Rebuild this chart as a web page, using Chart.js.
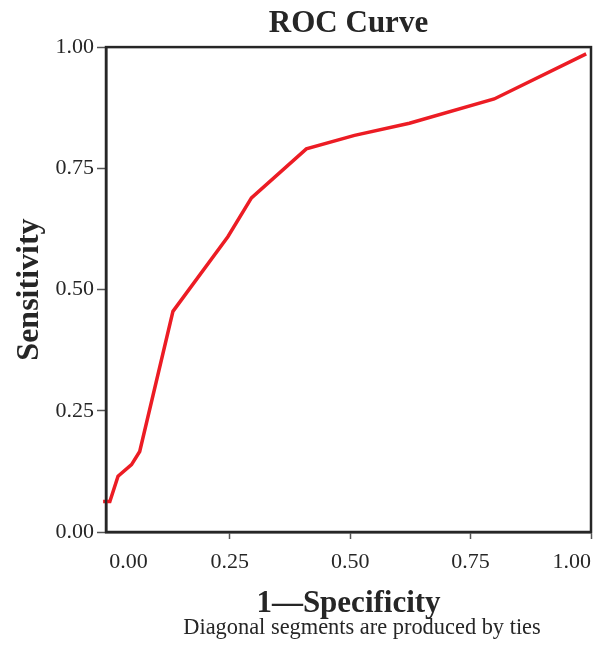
<!DOCTYPE html>
<html>
<head>
<meta charset="utf-8">
<script src="https://cdn.jsdelivr.net/npm/chart.js@4.4.0/dist/chart.umd.min.js"></script>
<style>
  html, body { margin: 0; padding: 0; background: #ffffff; }
  #wrap { width: 606px; height: 653px; }
</style>
</head>
<body>
<div id="wrap"><canvas id="c" width="606" height="653"></canvas></div>
<script>
// ---- data ----
const fpr = [-0.013, 0.001, 0.018, 0.046, 0.063, 0.132, 0.246, 0.295, 0.409, 0.509, 0.623, 0.799, 0.990];
const tpr = [0.063, 0.063, 0.115, 0.139, 0.166, 0.455, 0.609, 0.689, 0.790, 0.818, 0.843, 0.893, 0.986];
const xTicks = [0, 0.25, 0.5, 0.75, 1.0];
const yTicks = [0, 0.25, 0.5, 0.75, 1.0];
const titleText = 'ROC Curve';
const xTitle = '1\u2014Specificity';
const yTitle = 'Sensitivity';
const noteText = 'Diagonal segments are produced by ties';

const points = fpr.map((x, i) => ({ x: x, y: tpr[i] }));
const SERIF = "'Liberation Serif', 'DejaVu Serif', serif";
const INK = '#262626';

const frame = {
  id: 'frame',
  afterDatasetsDraw(chart) {
    const a = chart.chartArea, ctx = chart.ctx;
    ctx.save();
    ctx.strokeStyle = INK;
    ctx.lineWidth = 2.5;
    ctx.strokeRect(a.left, a.top, a.right - a.left, a.bottom - a.top);
    ctx.restore();
  },
  afterDraw(chart) {
    const ctx = chart.ctx;
    ctx.save();
    ctx.fillStyle = INK;
    ctx.font = "22.4px " + SERIF;
    ctx.textAlign = 'center';
    ctx.textBaseline = 'alphabetic';
    ctx.fillText(noteText, 362, 634);
    ctx.restore();
  }
};

new Chart(document.getElementById('c'), {
  type: 'line',
  data: {
    datasets: [{
      data: points,
      borderColor: '#ec1c24',
      borderWidth: 3.5,
      pointRadius: 0,
      tension: 0,
      fill: false,
      clip: false
    }]
  },
  options: {
    responsive: false,
    animation: false,
    devicePixelRatio: 1,
    layout: { padding: { left: 0, right: 15, top: 0, bottom: 26 } },
    plugins: {
      legend: { display: false },
      tooltip: { enabled: false },
      title: {
        display: true,
        text: titleText,
        fullSize: false,
        color: INK,
        font: { family: SERIF, size: 31, weight: 'bold', lineHeight: 1.1 },
        padding: { top: 7, bottom: 6 }
      }
    },
    scales: {
      x: {
        type: 'linear',
        min: -0.007,
        max: 1.0,
        afterBuildTicks: (s) => { s.ticks = xTicks.map(v => ({ value: v })); },
        afterFit: (s) => { s.height = 95; s.paddingLeft = 0; s.paddingRight = 0; },
        ticks: {
          color: INK,
          font: { family: SERIF, size: 22 },
          padding: 10,
          align: 'inner',
          maxRotation: 0,
          callback: (v) => Number(v).toFixed(2)
        },
        grid: {
          drawOnChartArea: false,
          drawTicks: true,
          tickLength: 7,
          tickWidth: 1.5,
          tickColor: (c) => (c.tick && c.tick.value === 0) ? 'rgba(0,0,0,0)' : '#555'
        },
        border: { display: true, color: INK, width: 2.5 },
        title: {
          display: true,
          text: xTitle,
          color: INK,
          font: { family: SERIF, size: 31, weight: 'bold', lineHeight: 1.2 },
          padding: { top: 0, bottom: 4 }
        }
      },
      y: {
        type: 'linear',
        min: 0,
        max: 1.0,
        afterBuildTicks: (s) => { s.ticks = yTicks.map(v => ({ value: v })); },
        afterFit: (s) => { s.width = 106; s.paddingTop = 0; s.paddingBottom = 0; },
        ticks: {
          color: INK,
          font: { family: SERIF, size: 22 },
          padding: 3,
          callback: (v) => Number(v).toFixed(2)
        },
        grid: {
          drawOnChartArea: false,
          drawTicks: true,
          tickLength: 9,
          tickWidth: 1.5,
          tickColor: '#555'
        },
        border: { display: true, color: INK, width: 2.5 },
        title: {
          display: true,
          text: yTitle,
          color: INK,
          font: { family: SERIF, size: 32, weight: 'bold', lineHeight: 1 },
          padding: { top: 14, bottom: 0 }
        }
      }
    }
  },
  plugins: [frame]
});
</script>
</body>
</html>
